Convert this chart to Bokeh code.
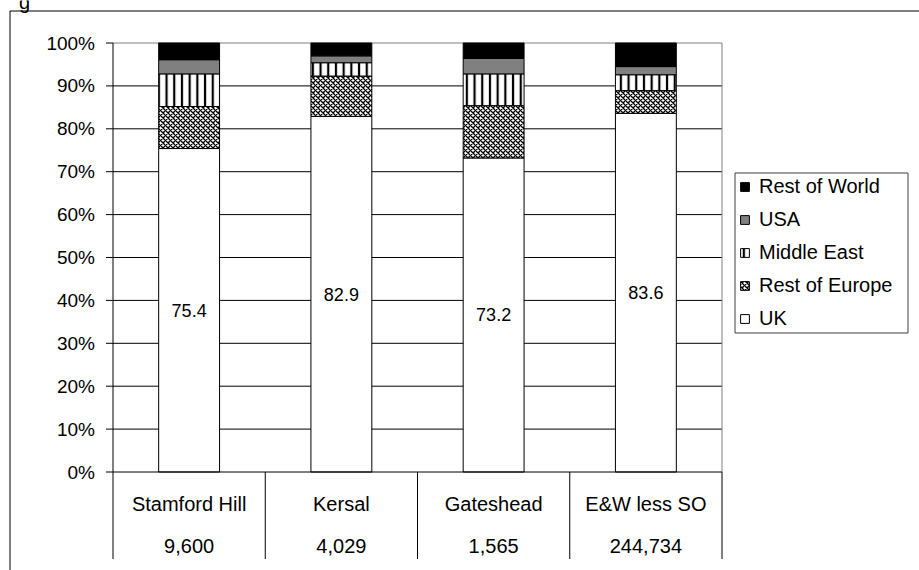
from bokeh.plotting import figure
from bokeh.models import Range1d, Legend, LegendItem, ColumnDataSource
from bokeh.core.properties import value
from bokeh.transform import stack
from bokeh.embed import file_html
from bokeh.resources import INLINE

# Country of birth shares (%) by area
categories = ["Stamford Hill", "Kersal", "Gateshead", "E&W less SO"]
respondents = ["9,600", "4,029", "1,565", "244,734"]
uk = [75.4, 82.9, 73.2, 83.6]
rest_of_europe = [9.8, 9.4, 12.2, 5.3]
middle_east = [7.6, 3.1, 7.4, 3.7]
usa = [3.3, 1.6, 3.6, 1.9]
rest_of_world = [3.9, 3.0, 3.6, 5.5]
series_names = ["UK", "Rest of Europe", "Middle East", "USA", "Rest of World"]

y_ticks = [0, 10, 20, 30, 40, 50, 60, 70, 80, 90, 100]
y_tick_labels = ["0%", "10%", "20%", "30%", "40%", "50%", "60%", "70%", "80%", "90%", "100%"]

# page and plot-area geometry (pixels)
W, H = 919, 570
LEFT, RIGHT, TOP, BOTTOM = 112.5, 721.5, 42.5, 471.5
FONT = "Liberation Sans"
N = len(categories)


def data_x(px):
    return (px - LEFT) / (RIGHT - LEFT) * N


def data_y(py):
    return (BOTTOM - py) / (BOTTOM - TOP) * 100


src = ColumnDataSource(dict(
    x=[i + 0.5 for i in range(N)],
    cat=categories,
    n=respondents,
    uk_mid=[v / 2 for v in uk],
    uk_text=[f"{v:.1f}" for v in uk],
    **{
        "UK": uk,
        "Rest of Europe": rest_of_europe,
        "Middle East": middle_east,
        "USA": usa,
        "Rest of World": rest_of_world,
    },
))

# the frame spans the whole page; the plot area is the 0..N x 0..100 box inside it
p = figure(width=W, height=H,
           x_range=Range1d(data_x(0), data_x(W)), y_range=Range1d(data_y(H), data_y(0)),
           x_axis_location=None, y_axis_location=None, min_border=0,
           output_backend="svg", toolbar_location=None)
p.background_fill_color = "white"
p.border_fill_color = "white"
p.outline_line_color = None
p.grid.visible = False

# horizontal gridlines
inner = y_ticks[1:-1]
p.segment(x0=[0] * len(inner), x1=[N] * len(inner), y0=inner, y1=inner,
          line_color="black", line_width=1)
# plot-area border (top and right) in grey
p.segment(x0=[0, N], y0=[100, 0], x1=[N, N], y1=[100, 100],
          line_color="#808080", line_width=1)

styles = {
    "UK": dict(fill_color="white"),
    "Rest of Europe": dict(fill_color="white", hatch_pattern="diagonal_cross",
                           hatch_color="black", hatch_scale=5, hatch_weight=1.3),
    "Middle East": dict(fill_color="white", hatch_pattern="vertical_line",
                        hatch_color="black", hatch_scale=7.7, hatch_weight=2.2),
    "USA": dict(fill_color="#808080"),
    "Rest of World": dict(fill_color="black"),
}

renderers = {}
for i, name in enumerate(series_names):
    renderers[name] = p.vbar(x="x", width=0.4,
                             bottom=stack(*series_names[:i]),
                             top=stack(*series_names[:i + 1]),
                             source=src, line_color="black", line_width=1,
                             **styles[name])

# value axis: line, outward ticks and percentage labels
p.segment(x0=[0], y0=[0], x1=[0], y1=[100], line_color="black", line_width=1)
p.segment(x0=[data_x(105.5)] * len(y_ticks), x1=[0] * len(y_ticks),
          y0=y_ticks, y1=y_ticks, line_color="black", line_width=1)
p.text(x=[data_x(94.5)] * len(y_ticks), y=y_ticks, text=y_tick_labels,
       text_align="right", text_baseline="middle",
       text_font=value(FONT), text_font_size=value("19px"), text_color="black")

# category axis line and data-table column separators
p.segment(x0=[0], y0=[0], x1=[N], y1=[0], line_color="black", line_width=1)
seps = list(range(N + 1))
p.segment(x0=seps, x1=seps, y0=[0] * len(seps), y1=[data_y(558.5)] * len(seps),
          line_color="black", line_width=1)

# data table: area names and counts
p.text(x="x", y=data_y(503.5), text="cat", source=src,
       text_align="center", text_baseline="middle",
       text_font=value(FONT), text_font_size=value("20px"), text_color="black")
p.text(x="x", y=data_y(545.5), text="n", source=src,
       text_align="center", text_baseline="middle",
       text_font=value(FONT), text_font_size=value("20px"), text_color="black")

# UK share written inside each bar
p.text(x="x", y="uk_mid", text="uk_text", source=src,
       text_align="center", text_baseline="middle",
       text_font=value(FONT), text_font_size=value("18px"), text_color="black")

# legend box
p.quad(left=[data_x(734.5)], right=[data_x(907.5)], top=[data_y(172.5)], bottom=[data_y(332.5)],
       fill_color="white", line_color="#404040", line_width=1)
legend = Legend(
    items=[LegendItem(label=n, renderers=[renderers[n]]) for n in reversed(series_names)],
    location=(739, H - 330),
    orientation="vertical",
    border_line_color=None, background_fill_alpha=0,
    padding=3, spacing=10, margin=0,
    label_height=21, glyph_height=11, glyph_width=11, label_standoff=9,
    label_text_font=FONT, label_text_font_size="20px", label_text_color="black",
)
p.add_layout(legend)

# outer chart border
p.segment(x0=[data_x(9.5), data_x(9.5)], y0=[data_y(10.5), data_y(10.5)],
          x1=[data_x(W + 5), data_x(9.5)], y1=[data_y(10.5), data_y(H + 5)],
          line_color="black", line_width=1)

# tail of the caption line above the chart
p.text(x=[data_x(18.5)], y=[data_y(1.5)], text=["g"], text_baseline="alphabetic",
       text_font=value(FONT), text_font_size=value("20px"), text_color="black")

open("out.html", "w").write(file_html(p, INLINE))
